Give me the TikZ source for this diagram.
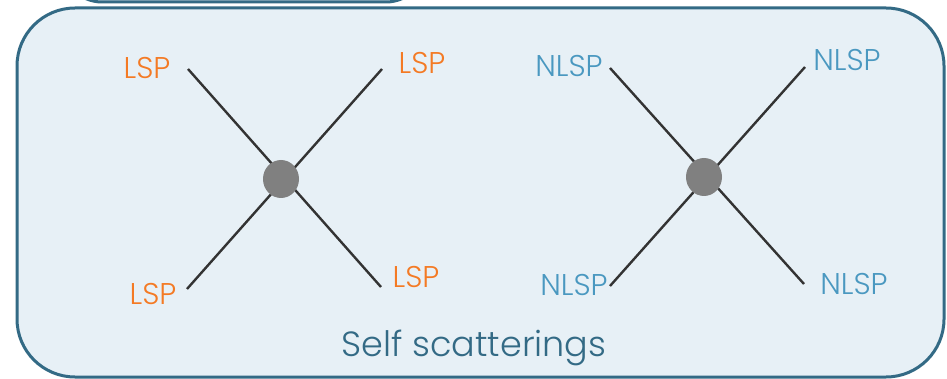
\documentclass[tikz,border=0pt]{standalone}
\usepackage{fontspec}
\setmainfont{Poppins Light}
\definecolor{frame}{HTML}{336A85}
\definecolor{boxfill}{HTML}{E7F0F6}
\definecolor{lsp}{HTML}{F47A24}
\definecolor{nlsp}{HTML}{4A98C0}
\definecolor{legline}{HTML}{333333}
\definecolor{blob}{HTML}{808080}
\begin{document}
\begin{tikzpicture}[x=1pt,y=-1pt,
  leg/.style={draw=legline,line width=2.4pt},
  vtxpt/.style={shape=circle,minimum size=0pt,inner sep=0pt},
  lsplab/.style={text=lsp,font=\fontsize{30}{33}\selectfont,inner sep=0pt},
  nlsplab/.style={text=nlsp,font=\fontsize{30}{33}\selectfont,inner sep=0pt}]
\useasboundingbox (0,0) rectangle (947,379);
\fill[white] (0,0) rectangle (947,379);
\begin{scope}
\clip (0,0) rectangle (947,379);
\draw[frame,line width=3pt,fill=boxfill,rounded corners=40pt] (62,-80) rectangle (426,2);
\draw[frame,line width=3pt,fill=boxfill,rounded corners=58pt] (17,8) rectangle (944,377);
\end{scope}
% left diagram
\node[vtxpt] (c1) at (281,179) {};
\coordinate (a1) at (188,69);
\coordinate (b1) at (382,69);
\coordinate (d1) at (187,289);
\coordinate (e1) at (381,287);
\draw[leg] (a1) -- (e1);
\draw[leg] (d1) -- (b1);
\fill[blob] (c1) ellipse (18pt and 19pt);
\node[lsplab] (l1) at (147,68) {LSP};
\node[lsplab] (l2) at (422,63) {LSP};
\node[lsplab] (l3) at (153,294) {LSP};
\node[lsplab] (l4) at (416,277) {LSP};
% right diagram
\node[vtxpt] (c2) at (704,177) {};
\coordinate (a2) at (610,68);
\coordinate (b2) at (805,67);
\coordinate (d2) at (610,286);
\coordinate (e2) at (804,284);
\draw[leg] (a2) -- (e2);
\draw[leg] (d2) -- (b2);
\fill[blob] (c2) ellipse (18pt and 19pt);
\node[nlsplab] (n1) at (569,66) {NLSP};
\node[nlsplab] (n2) at (847,60) {NLSP};
\node[nlsplab] (n3) at (574,285) {NLSP};
\node[nlsplab] (n4) at (854,284) {NLSP};
\node[text=frame,font=\fontsize{35}{40}\selectfont,inner sep=0pt] (title) at (474,348) {Self scatterings};
\end{tikzpicture}
\end{document}
